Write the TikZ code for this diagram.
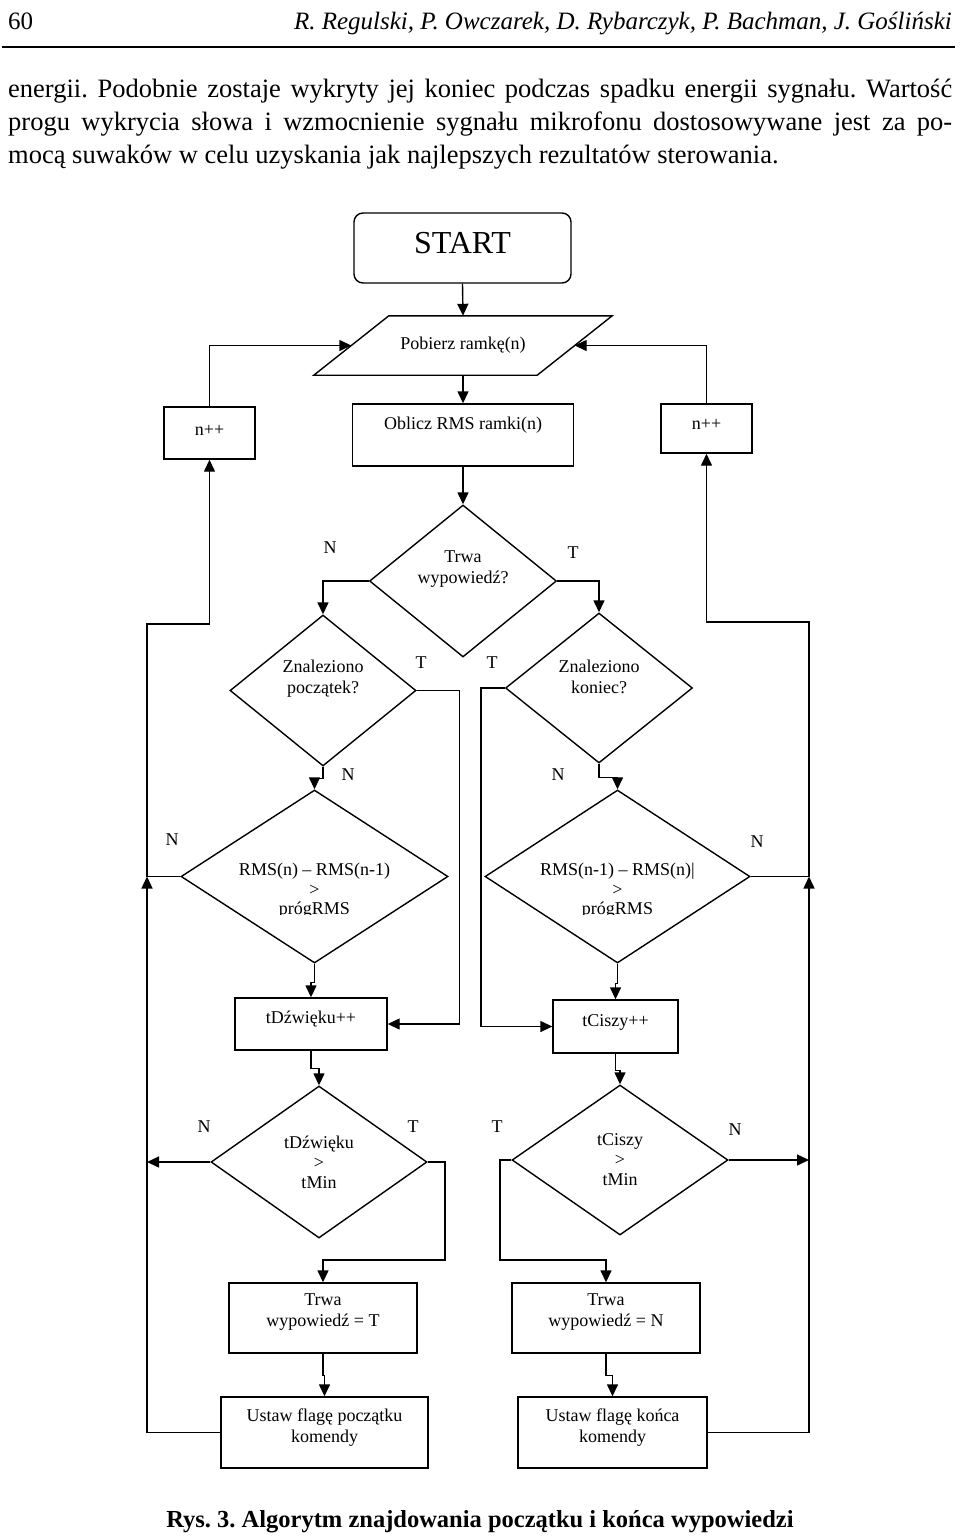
\documentclass[tikz,border=0pt]{standalone}
\usepackage{fontspec}
\setmainfont{Liberation Serif}
\usetikzlibrary{arrows.meta,shapes.geometric}
\newcommand\ff{\fontsize{18}{20.5}\selectfont}
\newcommand\pf{\fontsize{26.5}{28}\selectfont\frenchspacing}
\begin{document}
\begin{tikzpicture}[x=1pt,y=-1pt,
  every node/.style={inner sep=0pt},
  arr/.style={line width=1.4pt,-{Triangle[length=12pt,width=11pt]}},
  box/.style={draw,line width=1.4pt,rectangle},
  dia/.style={draw,line width=1.4pt,diamond},
  lbl/.style={font=\ff,align=center},
  yn/.style={font=\ff}]
\useasboundingbox (0,0) rectangle (960,1537);
% header
\node[anchor=base west,font=\fontsize{25}{27}\selectfont] (pg) at (8,29) {60};
\node[anchor=base east,font=\itshape\fontsize{25}{27}\selectfont] (auth) at (952,29) {R. Regulski, P. Owczarek, D. Rybarczyk, P. Bachman, J. Gośliński};
\draw[line width=2pt] (2,47) -- (955,47);
% paragraph
\node[anchor=base west,font=\pf] (p1) at (8,97) {\makebox[944pt][s]{energii. Podobnie zostaje wykryty jej koniec podczas spadku energii sygnału. Wartość}};
\node[anchor=base west,font=\pf] (p2) at (8,130) {\makebox[944pt][s]{progu wykrycia słowa i wzmocnienie sygnału mikrofonu dostosowywane jest za po-}};
\node[anchor=base west,font=\pf] (p3) at (8,163) {mocą suwaków w celu uzyskania jak najlepszych rezultatów sterowania.};
% START
\node[box,rounded corners=9pt,minimum width=217pt,minimum height=70pt] (start) at (462.5,248) {};
\node[font=\fontsize{32}{34}\selectfont,yshift=5pt] (startt) at (start) {START};
% parallelogram
\node[minimum width=223pt,minimum height=59pt,font=\ff] (pob) at (463,345.5) {Pobierz ramkę(n)};
\draw[line width=1.4pt] ([xshift=-37.5pt]pob.south west) -- ([xshift=37.5pt]pob.north west) -- ([xshift=37.5pt]pob.north east) -- ([xshift=-37.5pt]pob.south east) -- cycle;
% row of boxes
\node[box,minimum width=221pt,minimum height=62pt] (ob) at (463,435) {};
\node[lbl,yshift=10pt] (obt) at (ob) {Oblicz RMS ramki(n)};
\node[box,minimum width=91pt,minimum height=52pt] (nL) at (209.5,433) {};
\node[lbl,yshift=3pt] (nLt) at (nL) {n++};
\node[box,minimum width=91pt,minimum height=49pt] (nR) at (706.5,428.5) {};
\node[lbl,yshift=4pt] (nRt) at (nR) {n++};
% diamonds level 1 and 2
\node[dia,minimum width=187pt,minimum height=152pt] (d1) at (463,581) {};
\node[lbl,yshift=12pt] (d1t) at (d1) {Trwa\\wypowiedź?};
\node[dia,minimum width=186pt,minimum height=151pt] (d2) at (323,690.5) {};
\node[lbl,yshift=12pt] (d2t) at (d2) {Znaleziono\\początek?};
\node[dia,minimum width=187pt,minimum height=150pt] (d3) at (599,688) {};
\node[lbl,yshift=11pt] (d3t) at (d3) {Znaleziono\\koniec?};
% diamonds level 3
\node[dia,minimum width=267pt,minimum height=173pt] (d4) at (314.5,876.5) {};
\node[dia,minimum width=265pt,minimum height=173pt] (d5) at (617.5,876.5) {};
\begin{scope}
\clip (0,0) rectangle (960,914);
\node[font=\fontsize{18}{19.5}\selectfont,align=center,yshift=-14.5pt] (d4t) at (d4) {RMS(n) – RMS(n-1)\\>\\prógRMS};
\node[font=\fontsize{18}{19.5}\selectfont,align=center,yshift=-14.5pt] (d5t) at (d5) {RMS(n-1) – RMS(n)|\\>\\prógRMS};
\end{scope}
% counters
\node[box,minimum width=152pt,minimum height=52pt] (tdz) at (311,1024) {};
\node[lbl,yshift=5pt] (tdzt) at (tdz) {tDźwięku++};
\node[box,minimum width=125pt,minimum height=53pt] (tcz) at (615.5,1026.5) {};
\node[lbl,yshift=4.5pt] (tczt) at (tcz) {tCiszy++};
% diamonds level 4
\node[dia,minimum width=216pt,minimum height=152pt] (d6) at (319,1162) {};
\node[font=\fontsize{18}{20}\selectfont,align=center] (d6t) at (d6) {tDźwięku\\>\\tMin};
\node[dia,minimum width=216pt,minimum height=150pt] (d7) at (620,1160) {};
\node[font=\fontsize{18}{20}\selectfont,align=center] (d7t) at (d7) {tCiszy\\>\\tMin};
% final boxes
\node[box,minimum width=188pt,minimum height=70pt] (twT) at (323,1318) {};
\node[lbl,yshift=6pt] (twTt) at (twT) {Trwa\\wypowiedź = T};
\node[box,minimum width=188pt,minimum height=70pt] (twN) at (606,1318) {};
\node[lbl,yshift=6pt] (twNt) at (twN) {Trwa\\wypowiedź = N};
\node[box,minimum width=207pt,minimum height=71pt] (usL) at (324.5,1432.5) {};
\node[lbl,yshift=5pt] (usLt) at (usL) {Ustaw flagę początku\\komendy};
\node[box,minimum width=189pt,minimum height=71pt] (usR) at (612.5,1432.5) {};
\node[lbl,yshift=5pt] (usRt) at (usR) {Ustaw flagę końca\\komendy};
% junction coordinates
\coordinate (jL) at (147,876.5);
\coordinate (kL) at (147,624);
\coordinate (jR) at (809,876.5);
\coordinate (kR) at (809,622);
\coordinate (j6) at (445,1260);
\coordinate (j7) at (500,1260);
% connectors
\draw[arr] (start.south) -- (pob.north);
\draw[arr] (pob.south) -- (ob.north);
\draw[arr] (ob.south) -- (d1.north);
\draw[arr] (d1.west) -| (d2.north);
\draw[arr] (d1.east) -| (d3.north);
\draw[arr] (d2.east) -- ++(43,0) |- (tdz.east);
\draw[arr] (d3.west) -- ++(-24,0) |- (tcz.west);
\draw[arr] (d2.south) -- ++(0,12) -| (d4.north);
\draw[arr] (d3.south) -- ++(0,14) -| (d5.north);
\draw[arr] (d4.south) -- ++(0,19) -| (tdz.north);
\draw[arr] (d5.south) -- ++(0,20) -| (tcz.north);
\draw[arr] (tdz.south) -- ++(0,18) -| (d6.north);
\draw[arr] (tcz.south) -- ++(0,17) -| (d7.north);
\draw[arr] (d6.west) -- (d6.west -| jL);
\draw[arr] (d7.east) -- (d7.east -| jR);
\draw[arr] (d6.east) -| (j6) -| (twT.north);
\draw[arr] (d7.west) -| (j7) -| (twN.north);
\draw[arr] (twT.south) -- ++(0,22) -| (usL.north);
\draw[arr] (twN.south) -- ++(0,22) -| (usR.north);
\draw[arr] (usL.west) -| (jL);
\draw[arr] (usR.east) -| (jR);
\draw[arr] (d4.west) -- (jL) -- (kL) -| (nL.south);
\draw[arr] (d5.east) -- (jR) -- (kR) -| (nR.south);
\draw[arr] (nL.north) |- (pob.west);
\draw[arr] (nR.north) |- (pob.east);
% branch labels
\node[yn] (l1) at (330,548) {N};
\node[yn] (l2) at (573,553) {T};
\node[yn] (l3) at (421,663) {T};
\node[yn] (l4) at (492,663) {T};
\node[yn] (l5) at (348,775) {N};
\node[yn] (l6) at (558,775) {N};
\node[yn] (l7) at (172,840) {N};
\node[yn] (l8) at (757,842) {N};
\node[yn] (l9) at (204,1127) {N};
\node[yn] (l10) at (413,1127) {T};
\node[yn] (l11) at (497,1127) {T};
\node[yn] (l12) at (735,1130) {N};
% caption
\node[font=\bfseries\fontsize{24.5}{27}\selectfont\frenchspacing] (cap) at (480,1522) {Rys. 3. Algorytm znajdowania początku i końca wypowiedzi};
\end{tikzpicture}
\end{document}
